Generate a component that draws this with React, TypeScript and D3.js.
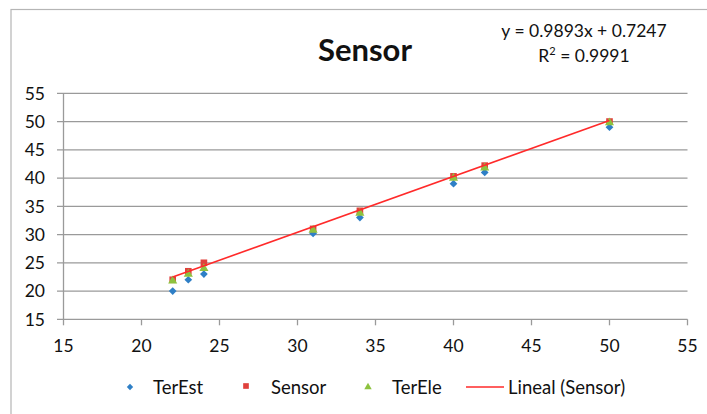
import React from "react";
import * as d3 from "d3";

const xValues = [22, 23, 24, 31, 34, 40, 42, 50];
const terEst = [20, 22, 23, 30.2, 33, 39, 41, 49];
const sensor = [22, 23.5, 25, 31, 34.2, 40.3, 42.2, 50];
const terEle = [21.8, 23, 24, 30.8, 33.8, 40, 41.8, 49.8];
const xTicks = [15, 20, 25, 30, 35, 40, 45, 50, 55];
const yTicks = [15, 20, 25, 30, 35, 40, 45, 50, 55];
const slope = 0.9893;
const intercept = 0.7247;
const r2 = 0.9991;

const W = 707;
const H = 414;
const FONT = "Lato, 'Open Sans', sans-serif";

export default function App() {
  const x = d3.scaleLinear().domain([15, 55]).range([63.5, 687.5]);
  const y = d3.scaleLinear().domain([15, 55]).range([319.3, 93.3]);
  const line = d3
    .line<number>()
    .x((d) => x(d))
    .y((d) => y(slope * d + intercept));
  const diamond = d3.symbol(d3.symbolSquare, 30)() as string;
  const square = d3.symbol(d3.symbolSquare, 44)() as string;
  const tri = d3.symbol(d3.symbolTriangle, 36)() as string;
  const triSmall = d3.symbol(d3.symbolTriangle, 24)() as string;
  const diaSmall = d3.symbol(d3.symbolSquare, 20)() as string;
  const sqSmall = d3.symbol(d3.symbolSquare, 32)() as string;
  const blue = "#2E7FC6";
  const red = "#E0403C";
  const green = "#8DC23F";
  const grid = "#9a9a9a";

  return (
    <svg
      width={W}
      height={H}
      style={{ position: "absolute", left: 0, top: 0, background: "#fff" }}
      fontFamily={FONT}
    >
      <rect x={11} y={9.5} width={700} height={420} fill="#fff" stroke="#b5b5b5" strokeWidth={1.2} />
      {yTicks.map((t) => (
        <g key={"y" + t}>
          <line x1={57} x2={x(55)} y1={y(t)} y2={y(t)} stroke={grid} strokeWidth={1.3} />
          <text x={45} y={y(t)} dy="0.36em" textAnchor="end" fontSize={17.5} fill="#111">
            {t}
          </text>
        </g>
      ))}
      <line x1={x(15)} x2={x(15)} y1={y(55)} y2={y(15)} stroke={grid} strokeWidth={1.3} />
      {xTicks.map((t) => (
        <g key={"x" + t}>
          <line x1={x(t)} x2={x(t)} y1={y(15)} y2={y(15) + 6} stroke={grid} strokeWidth={1.3} />
          <text x={x(t)} y={y(15) + 26} dy="0.36em" textAnchor="middle" fontSize={17.5} fill="#111">
            {t}
          </text>
        </g>
      ))}
      {xValues.map((v, i) => (
        <path key={"b" + i} d={diamond} transform={`translate(${x(v)},${y(terEst[i])}) rotate(45)`} fill={blue} />
      ))}
      {xValues.map((v, i) => (
        <path key={"r" + i} d={square} transform={`translate(${x(v)},${y(sensor[i])})`} fill={red} />
      ))}
      {xValues.map((v, i) => (
        <path key={"g" + i} d={tri} transform={`translate(${x(v)},${y(terEle[i])})`} fill={green} />
      ))}
      <path d={line([22, 50]) as string} fill="none" stroke="#FF2A2A" strokeWidth={1.6} />
      <text x={365} y={50} dy="0.36em" textAnchor="middle" fontSize={31} fontWeight="bold" fill="#111">
        Sensor
      </text>
      <text x={584} y={31} dy="0.36em" textAnchor="middle" fontSize={17.5} fill="#111">
        {`y = ${slope}x + ${intercept}`}
      </text>
      <text x={584} y={56} dy="0.36em" textAnchor="middle" fontSize={17.5} fill="#111">
        R<tspan dy="-7" fontSize={11}>2</tspan>
        <tspan dy="7">{` = ${r2}`}</tspan>
      </text>
      <g fontSize={18.5} fill="#111">
        <path d={diaSmall} transform="translate(130,387) rotate(45)" fill={blue} />
        <text x={153} y={387} dy="0.36em">TerEst</text>
        <path d={sqSmall} transform="translate(246,386)" fill={red} />
        <text x={271} y={387} dy="0.36em">Sensor</text>
        <path d={triSmall} transform="translate(368,387)" fill={green} />
        <text x={392} y={387} dy="0.36em">TerEle</text>
        <line x1={466} x2={504} y1={387} y2={387} stroke="#FF2A2A" strokeWidth={1.6} />
        <text x={508} y={387} dy="0.36em">Lineal (Sensor)</text>
      </g>
    </svg>
  );
}
